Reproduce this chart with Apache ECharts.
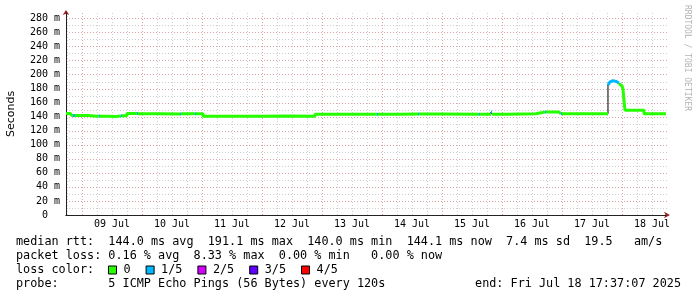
<!DOCTYPE html>
<html><head><meta charset="utf-8">
<script src="https://cdn.jsdelivr.net/npm/echarts@6/dist/echarts.min.js"></script>
<style>html,body{margin:0;padding:0;background:#fff}#c{width:697px;height:297px}</style>
</head><body><div id="c"></div>
<script>
// ---- data ----
const rangeStart = '07-08 17:37:07';
const rangeEnd = '07-18 17:37:07';
const medianTimes = ['07-08 17:37','07-08 19:13','07-08 20:01','07-08 20:25','07-08 21:13','07-09 02:25','07-09 06:01','07-09 06:49','07-09 07:13','07-09 10:25','07-09 13:13','07-09 15:37','07-09 16:01','07-09 18:01','07-09 22:01','07-09 22:25','07-10 07:13','07-10 15:13','07-10 15:37','07-10 21:13','07-10 21:37','07-11 00:25','07-11 15:13','07-12 00:01','07-12 11:13','07-12 21:13','07-13 22:01','07-13 22:25','07-14 07:13','07-14 14:25','07-14 14:49','07-14 23:13','07-15 14:49','07-15 15:13','07-15 19:37','07-15 20:01','07-16 02:01','07-16 13:37','07-16 17:13','07-16 17:37','07-16 22:49','07-16 23:37','07-17 00:01','07-17 18:25','07-17 18:49','07-17 19:13','07-17 19:37','07-17 20:01','07-17 20:25','07-17 20:49','07-17 21:13','07-17 21:37','07-17 22:01','07-17 22:25','07-17 22:49','07-17 23:13','07-17 23:37','07-18 00:01','07-18 00:25','07-18 00:49','07-18 01:13','07-18 08:49','07-18 17:37'];
const medianValues = [144.6,143.8,141.6,141.6,141.5,140.4,140.8,140.8,140.6,140.2,140.9,141.2,141.2,144.3,144.6,144.0,143.8,143.9,144.0,144.0,144.0,140.7,140.4,140.8,140.5,143.4,143.4,143.4,143.7,143.6,143.6,143.4,143.4,143.4,146.5,143.4,144.2,146.6,146.6,146.6,144.0,144.0,144.0,185.0,187.8,189.5,190.5,191.1,190.3,190.9,190.2,189.6,188.7,187.9,186.8,185.5,184.0,181.5,178.5,176.0,149.0,144.1,144.1];
const lossLevels = [0,0,0,1,0,0,0,1,0,0,0,1,0,0,1,0,0,1,0,1,0,0,0,0,0,0,1,0,0,1,0,0,1,0,1,0,0,0,1,0,0,1,0,1,1,1,1,1,1,1,1,1,1,1,0,0,0,0,0,0,0,0,0];
const lossNames = ['0','1/5','2/5','3/5','4/5'];
const lossColors = ['#26ff00','#00b8ff','#d400ff','#6000ff','#ff0000'];
const dayLabels = ['09 Jul','10 Jul','11 Jul','12 Jul','13 Jul','14 Jul','15 Jul','16 Jul','17 Jul','18 Jul'];
const dayLabelTimes = ['07-09 12:00','07-10 12:00','07-11 12:00','07-12 12:00','07-13 12:00','07-14 12:00','07-15 12:00','07-16 12:00','07-17 12:00','07-18 12:00'];
const yMajorTicks = [20,40,60,80,100,120,140,160,180,200,220,240,260,280];
const yMinorTicks = [10,30,50,70,90,110,130,150,170,190,210,230,250,270];
const rttStats = ['144.0','191.1','140.0','144.1','7.4','19.5'];
const lossStats = ['0.16','8.33','0.00','0.00'];
const probeText = '5 ICMP Echo Pings (56 Bytes) every 120s';
const endText = 'end: Fri Jul 18 17:37:07 2025';

// ---- helpers ----
function ts(s){ const [md,hm]=s.split(' '); const [mo,d]=md.split('-').map(Number); const p=hm.split(':').map(Number); return Date.UTC(2025,mo-1,d,p[0],p[1],p[2]||0); }
const xMin = ts(rangeStart), xMax = ts(rangeEnd);
const T = medianTimes.map(ts);

// vertical grid every 6 hours
const vGrid = [];
for (let t = ts('07-08 18:00'); t <= xMax; t += 6*3600*1000) vGrid.push([t, new Date(t).getUTCHours()===0 ? 1 : 0]);

function lossData(k){
  const out=[];
  for (let i=0;i<T.length-1;i++){
    if (lossLevels[i]!==k) continue;
    if (out.length && !(i>0 && lossLevels[i-1]===k)) out.push(['-','-']);
    out.push([T[i], medianValues[i]]);
    out.push([T[i+1], medianValues[i]]);
  }
  return out;
}

const MONO = '"DejaVu Sans Mono", monospace';
const majorCol = '#dba3a3', minorCol = '#cfcfcf';

const series = [
  { name:'vgrid', type:'custom', coordinateSystem:'cartesian2d', z:0, silent:true, clip:false, animation:false,
    data: vGrid,
    renderItem: (params, api) => {
      const cs = params.coordSys;
      const x = Math.round(api.coord([api.value(0), 0])[0]) + 0.5;
      const major = api.value(1) === 1;
      return { type:'line', silent:true, shape:{x1:x,y1:cs.y,x2:x,y2:cs.y+cs.height},
        style:{stroke: major?majorCol:minorCol, lineWidth:1, lineDash:[1,2]} };
    } },
  { name:'hgrid', type:'custom', coordinateSystem:'cartesian2d', z:0, silent:true, clip:false, animation:false,
    data: yMinorTicks.map(v=>[xMin,v,0]).concat(yMajorTicks.map(v=>[xMin,v,1])),
    renderItem: (params, api) => {
      const cs = params.coordSys;
      const y = Math.round(api.coord([api.value(0), api.value(1)])[1]) + 0.5;
      const major = api.value(2) === 1;
      return { type:'line', silent:true, shape:{x1:cs.x,y1:y,x2:cs.x+cs.width+2,y2:y},
        style:{stroke: major?majorCol:minorCol, lineWidth:1, lineDash:[1,2]} };
    } },
  { name:'xlabels', type:'custom', coordinateSystem:'cartesian2d', z:1, silent:true, clip:false, animation:false,
    data: dayLabelTimes.map(s=>[ts(s),0]),
    renderItem: (params, api) => {
      const cs = params.coordSys;
      const x = api.coord([api.value(0), 0])[0];
      return { type:'text', silent:true, x:x, y:cs.y+cs.height+9.5,
        style:{text: dayLabels[params.dataIndex], font:'10px '+MONO, fill:'#000', align:'center', verticalAlign:'middle'} };
    } },
  { name:'median', type:'line', z:2, step:'end', symbol:'none', animation:false, silent:true,
    data: T.map((t,i)=>[t, medianValues[i]]),
    lineStyle:{color:'#000', width:1}, itemStyle:{color:'#000'} }
];
lossNames.forEach((n,k)=>{
  series.push({ name:n, type:'line', z:3, symbol:'none', animation:false, silent:true, connectNulls:false,
    data: lossData(k), lineStyle:{color:lossColors[k], width:3, cap:'butt'}, itemStyle:{color:lossColors[k]} });
});

const txt = (text, x, y, align) => ({ type:'text', x:x, y:y, silent:true,
  style:{ text:text, font:'11.8px '+MONO, fill:'#000', align:align||'left', verticalAlign:'middle' } });

const line1 = 'median rtt:  '+rttStats[0]+' ms avg  '+rttStats[1]+' ms max  '+rttStats[2]+' ms min  '+rttStats[3]+' ms now  '+rttStats[4]+' ms sd  '+rttStats[5]+'   am/s';
const line2 = 'packet loss: '+lossStats[0]+' % avg  '+lossStats[1]+' % max  '+lossStats[2]+' % min   '+lossStats[3]+' % now';

const chart = echarts.init(document.getElementById('c'), null, {renderer:'canvas'});
chart.setOption({
  animation:false,
  backgroundColor:'#fff',
  grid:{ left:66, top:13, width:600, height:202, containLabel:false, outerBoundsMode:'none' },
  xAxis:[
    { type:'value', min:xMin, max:xMax, z:1, axisLine:{show:true, lineStyle:{color:'#222', width:1}}, axisTick:{show:false}, axisLabel:{show:false}, splitLine:{show:false} },
    { type:'value', min:xMin, max:xMax, position:'bottom', z:0, axisLine:{show:true, symbol:['none','arrow'], symbolSize:[5,6], symbolOffset:[0,4], lineStyle:{color:'#9b2020', width:1}}, axisTick:{show:false}, axisLabel:{show:false}, splitLine:{show:false} }
  ],
  yAxis:[
    { type:'value', min:0, max:287.5, interval:20, z:1,
      axisLine:{show:true, lineStyle:{color:'#222', width:1}}, axisTick:{show:false}, splitLine:{show:false},
      axisLabel:{ show:true, margin:6, color:'#000', fontFamily:MONO, fontSize:10, showMaxLabel:false,
        formatter: v => v===0 ? '0  ' : (v + ' m') } },
    { type:'value', min:0, max:287.5, position:'left', z:0,
      axisLine:{show:true, symbol:['none','arrow'], symbolSize:[5,5], symbolOffset:[0,3], lineStyle:{color:'#9b2020', width:1}}, axisTick:{show:false}, axisLabel:{show:false}, splitLine:{show:false} }
  ],
  legend:{ data: lossNames, left:108, top:264, padding:0, itemWidth:8, itemHeight:8, itemGap:15, icon:'rect', selectedMode:false,
    itemStyle:{ borderColor:'#000', borderWidth:1 },
    textStyle:{ fontFamily:MONO, fontSize:11.8, color:'#000', padding:[0,0,0,2] } },
  series: series,
  graphic:[
    { type:'text', x:11, y:114, rotation:Math.PI/2, silent:true, style:{ text:'Seconds', font:'11px "DejaVu Sans"', fill:'#000', align:'center', verticalAlign:'middle' } },
    { type:'text', x:687, y:58, rotation:-Math.PI/2, silent:true, style:{ text:'RRDTOOL / TOBI OETIKER', font:'8px '+MONO, fill:'#b4b4b4', align:'center', verticalAlign:'middle' } },
    txt(line1, 16, 241.5),
    txt(line2, 16, 256),
    txt('loss color:', 16, 270),
    txt('probe:       '+probeText, 16, 284),
    txt(endText, 681, 284, 'right')
  ]
});
</script></body></html>
